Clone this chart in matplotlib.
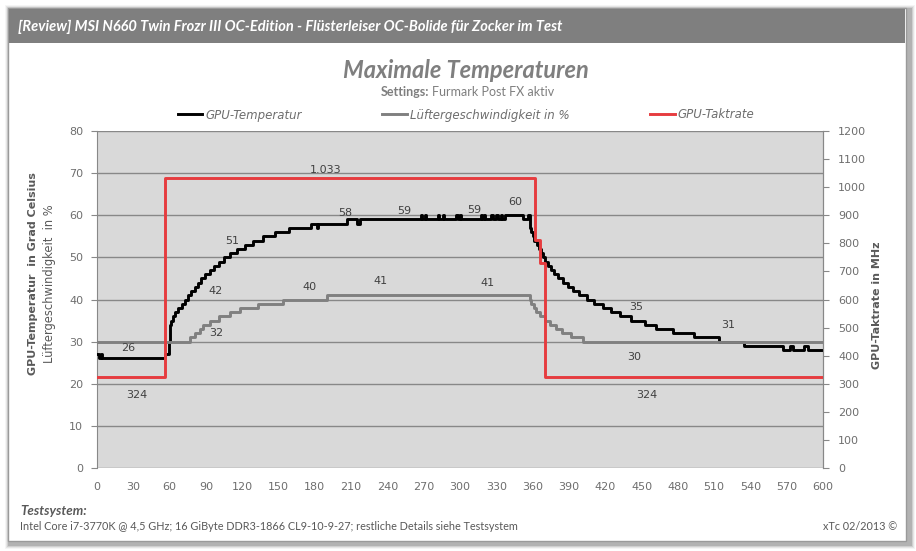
import matplotlib
matplotlib.use("Agg")
import matplotlib.pyplot as plt
from matplotlib.patches import Rectangle
import numpy as np

# Zeitachse in Sekunden, Werte gelten ab dem jeweiligen Zeitpunkt (Treppenkurve)
temp_t = [0, 2, 3, 4, 56, 59.5, 60.5, 61.5, 62.5, 64.5, 67, 70, 72.5, 75, 78, 81, 83.5, 86,
          89.5, 93, 97, 101, 105, 110, 116, 122, 129, 137, 147, 159, 177, 182, 183, 207,
          215, 217, 268, 269, 271, 272, 282, 283, 286, 287, 297, 298, 300, 301, 317, 318,
          320, 321, 326, 327, 330, 331, 334, 335, 337, 352, 356, 357.5, 358.5, 360, 361.5,
          364, 365.5, 367, 368.5, 370.5, 372.5, 375, 378, 381, 385, 389, 393, 398, 405,
          411, 418, 425, 432, 441, 453, 462, 476, 493, 514, 535, 567, 572.5, 575.5, 584,
          588, 600]
temp_v = [27, 26, 27, 26, 27, 30, 34, 35, 36, 37, 38, 39, 40, 41, 42, 43, 44, 45,
          46, 47, 48, 49, 50, 51, 52, 53, 54, 55, 56, 57, 58, 57, 58, 59,
          58, 59, 60, 59, 60, 59, 60, 59, 60, 59, 60, 59, 60, 59, 60, 59,
          60, 59, 60, 59, 60, 59, 60, 59, 60, 59, 60, 57, 56, 55, 54,
          53, 52, 51, 50, 49, 48, 47, 46, 45, 44, 43, 42, 41, 40,
          39, 38, 37, 36, 35, 34, 33, 32, 31, 30, 29, 28, 29, 28, 29,
          28, 28]

fan_t = [0, 77, 81, 85, 88, 93, 101, 110, 118, 133, 154, 190, 358, 359, 361, 363, 366,
         370, 374, 379, 384, 392, 402, 600]
fan_v = [30, 31, 32, 33, 34, 35, 36, 37, 38, 39, 40, 41, 40, 39, 38, 37, 36,
         35, 34, 33, 32, 31, 30, 30]

clock_t = [0, 56, 362, 366.5, 370, 600]
clock_v = [324, 1033, 812, 729, 324, 324]

x_ticks = list(range(0, 601, 30))
y_ticks_left = list(range(0, 81, 10))
y_ticks_right = list(range(0, 1201, 100))

# Datenbeschriftungen: Zeitpunkt, Versatz x/y in Pixel
temp_labels = [(26, 0, 10), (79, 23, 0), (112, 0, 12), (205, 0, 11), (254, 0, 8),
               (312, 0, 9), (346, 0, 13), (446, 0, 14), (513, 10, 12)]
fan_labels = [(82, 20, 0), (176, 0, 13), (234, 0, 14), (323, 0, 12), (444, 0, -15)]
clock_labels = [(189, 0, 8), (33, 0, -18), (454, 0, -18)]

W, H = 916, 551
TICK_COL = "#6e6e6e"
TITLE_COL = "#595959"
LBL_COL = "#404040"


def fx(x):
    return x / W


def fy(y):
    return 1 - y / H


def value_at(ts, vs, t):
    i = np.searchsorted(ts, t, side="right") - 1
    return vs[max(i, 0)]


def fmt(v):
    return f"{v:,}".replace(",", ".")


fig = plt.figure(figsize=(W / 100, H / 100), dpi=100)
fig.patch.set_facecolor("white")

# Rahmen mit Schatten
for k, a in enumerate([0.06, 0.10, 0.16, 0.26]):
    d = 4 - k
    fig.add_artist(Rectangle((fx(9 - d), fy(545 + d)), fx(902 + 2 * d), (536 + 2 * d) / H,
                             transform=fig.transFigure, facecolor="#606060",
                             edgecolor="none", alpha=a, zorder=-5))
fig.add_artist(Rectangle((fx(8), fy(541)), fx(898), 533 / H, transform=fig.transFigure,
                         facecolor="white", edgecolor="#9a9a9a", lw=1, zorder=-4))
fig.add_artist(Rectangle((fx(9), fy(43)), fx(896), 34 / H, transform=fig.transFigure,
                         facecolor="#7f7f7f", edgecolor="none", zorder=-3))
fig.text(fx(18), fy(27), "[Review] MSI N660 Twin Frozr III OC-Edition - Flüsterleiser "
         "OC-Bolide für Zocker im Test", color="white", fontsize=10.5, family="Lato",
         weight="bold", style="italic", va="center", ha="left")

ax = fig.add_axes([fx(97), fy(468), fx(823 - 97), (468 - 131) / H])
ax.set_facecolor("#d9d9d9")
ax.step(temp_t, temp_v, where="post", color="black", lw=2.1, label="GPU-Temperatur", zorder=3)
ax.step(fan_t, fan_v, where="post", color="#808080", lw=2.1,
        label="Lüftergeschwindigkeit in %", zorder=4)
ax.set_xlim(0, 600)
ax.set_ylim(0, 80)
ax.set_xticks(x_ticks)
ax.set_yticks(y_ticks_left)
ax.grid(axis="y", color="#888888", lw=1)
ax.set_axisbelow(True)
for s in ["top", "bottom"]:
    ax.spines[s].set_visible(False)
for s in ["left", "right"]:
    ax.spines[s].set_color("#888888")
ax.tick_params(axis="x", length=0, pad=10, labelsize=8, labelcolor=TICK_COL)
ax.tick_params(axis="y", length=4, color="#888888", pad=6, labelsize=8, labelcolor=TICK_COL)

ax2 = ax.twinx()
ax2.step(clock_t, clock_v, where="post", color="#e63c3f", lw=2.1, label="GPU-Taktrate", zorder=5)
ax2.set_ylim(0, 1200)
ax2.set_yticks(y_ticks_right)
for s in ["top", "bottom", "left"]:
    ax2.spines[s].set_visible(False)
ax2.spines["right"].set_color("#888888")
ax2.tick_params(axis="y", length=4, color="#888888", pad=7, labelsize=8, labelcolor=TICK_COL)

# Datenbeschriftungen
for axis, ts, vs, labels in [(ax, temp_t, temp_v, temp_labels),
                             (ax, fan_t, fan_v, fan_labels),
                             (ax2, clock_t, clock_v, clock_labels)]:
    for t, dx, dy in labels:
        v = value_at(ts, vs, t)
        axis.annotate(fmt(v), (t, v), xytext=(dx * 0.72, dy * 0.72), textcoords="offset points",
                      ha="center", va="center", fontsize=8, color=LBL_COL, zorder=6)

# Titel
fig.text(fx(466), fy(71), "Maximale Temperaturen", family="Lato", weight="bold",
         style="italic", fontsize=17, color="#7f7f7f", ha="center", va="center")
fig.text(fx(429), fy(92), "Settings:", family="Lato", weight="bold", fontsize=9,
         color="#7f7f7f", ha="right", va="center")
fig.text(fx(432), fy(92), "Furmark Post FX aktiv", family="Lato", fontsize=9,
         color="#7f7f7f", ha="left", va="center")

h1, l1 = ax.get_legend_handles_labels()
h2, l2 = ax2.get_legend_handles_labels()
leg = fig.legend(h1 + h2, l1 + l2, loc="center", bbox_to_anchor=(fx(466), fy(115)), ncol=3,
                 frameon=False, handlelength=2.1, handletextpad=0.25, columnspacing=6.8,
                 prop={"size": 8.5, "style": "italic"})
for txt in leg.get_texts():
    txt.set_color(TICK_COL)

# Achsentitel
fig.text(fx(33), fy(274), "GPU-Temperatur  in Grad Celsius", rotation=90, fontsize=8,
         weight="bold", color=TITLE_COL, ha="center", va="center")
fig.text(fx(50), fy(284), "Lüftergeschwindigkeit  in %", rotation=90, fontsize=8.3,
         color=TITLE_COL, ha="center", va="center")
fig.text(fx(877), fy(305), "GPU-Taktrate in MHz", rotation=90, fontsize=8,
         weight="bold", color=TITLE_COL, ha="center", va="center")

# Fusszeile
fig.text(fx(20), fy(511), "Testsystem:", family="Lato", weight="bold", style="italic",
         fontsize=9.5, color=TITLE_COL, ha="left", va="center")
fig.text(fx(20), fy(527), "Intel Core i7-3770K @ 4,5 GHz; 16 GiByte DDR3-1866 CL9-10-9-27; "
         "restliche Details siehe Testsystem", family="Lato", fontsize=7.8, color=TITLE_COL,
         ha="left", va="center")
fig.text(fx(897), fy(527), "xTc 02/2013 ©", family="Lato", fontsize=7.8, color=TITLE_COL,
         ha="right", va="center")

fig.savefig("out.png", dpi=100)
